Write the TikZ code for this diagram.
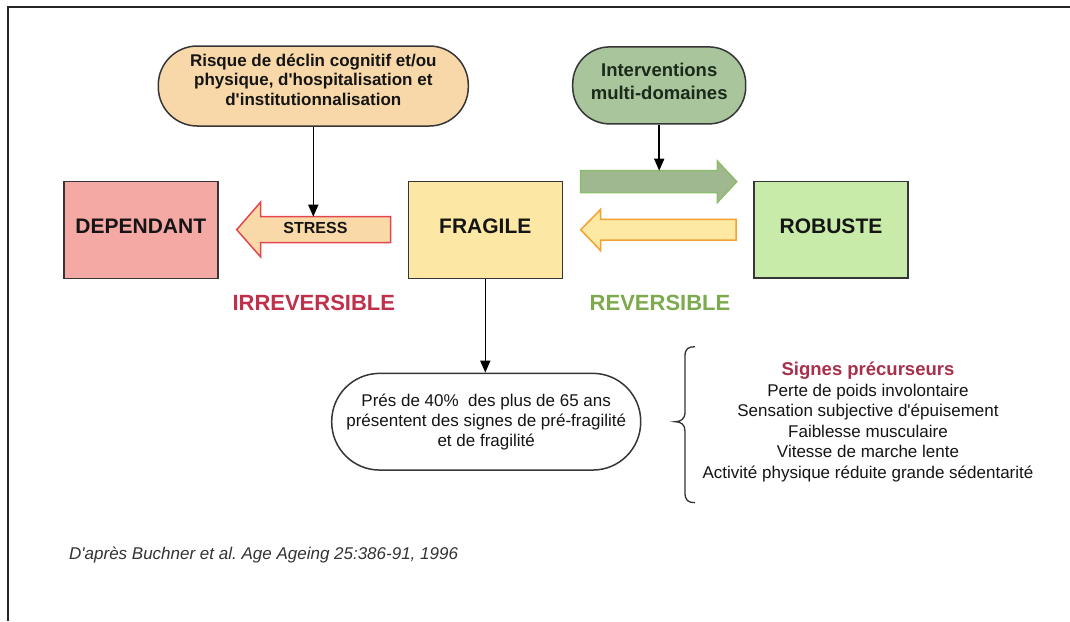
\documentclass[tikz,border=0pt]{standalone}
\usepackage{fontspec}
\setmainfont{Liberation Sans}
\usetikzlibrary{arrows.meta}
\definecolor{boxline}{HTML}{363636}
\definecolor{txt}{HTML}{151515}
\definecolor{risqueFill}{HTML}{F8D8A8}
\definecolor{intervFill}{HTML}{A9C59B}
\definecolor{intervTxt}{HTML}{1B2A1B}
\definecolor{depFill}{HTML}{F5A9A5}
\definecolor{fragFill}{HTML}{FCE8A4}
\definecolor{robFill}{HTML}{C9EBA9}
\definecolor{stressFill}{HTML}{F9D9A7}
\definecolor{stressLine}{HTML}{E2474F}
\definecolor{greenArrFill}{HTML}{A0B88F}
\definecolor{greenArrLine}{HTML}{8DBB6E}
\definecolor{yelArrFill}{HTML}{FDE8A4}
\definecolor{yelArrLine}{HTML}{F3A12F}
\definecolor{irrevCol}{HTML}{C1304B}
\definecolor{revCol}{HTML}{7DAA4E}
\definecolor{signesCol}{HTML}{A8304B}
\definecolor{citeCol}{HTML}{333333}
\newcommand{\apos}{\textquotesingle}
\frenchspacing
\begin{document}
\begin{tikzpicture}[x=1pt,y=-1pt,
  stateBox/.style={draw=boxline, line width=1.5pt, minimum width=154pt, minimum height=96.6pt,
    inner sep=0pt, font=\fontsize{21}{25}\selectfont\bfseries, text=txt, text height=15pt, text depth=8pt},
  pill/.style={draw=boxline, line width=1.5pt, inner sep=0pt},
  conn/.style={draw=black, line width=1.6pt, -{Triangle[length=12pt,width=10pt]}},
  blockArrow/.style={line width=1.5pt, line join=miter},
  bigLabel/.style={font=\fontsize{22}{26}\selectfont\bfseries},
]
\useasboundingbox (0,0) rectangle (1070,621);
\fill[white] (0,0) rectangle (1070,621);
% frame
\draw[line width=2pt, draw=black!85] (1070,6.5) -- (7.5,6.5) -- (7.5,621);

% top pills
\node[pill, fill=risqueFill, minimum width=310pt, minimum height=80pt, rounded corners=39pt] (risque) at (313.3,86) {};
\node[align=center, text=txt, font=\fontsize{17}{19.3}\selectfont\bfseries] (risqueTxt) at (313.3,79.7)
  {Risque de déclin cognitif et/ou\\physique, d\apos hospitalisation et\\d\apos institutionnalisation};
\node[pill, fill=intervFill, minimum width=173pt, minimum height=77pt, rounded corners=37pt] (interv) at (659.2,85.4) {};
\node[align=center, text=intervTxt, font=\fontsize{18.5}{23.5}\selectfont\bfseries] (intervTxt) at (659.2,81.5)
  {Interventions\\multi-domaines};

% state boxes
\node[stateBox, fill=depFill] (dep) at (140.8,230) {DEPENDANT};
\node[stateBox, fill=fragFill] (frag) at (485.3,230) {FRAGILE};
\node[stateBox, fill=robFill] (rob) at (831,229.7) {ROBUSTE};

% block arrows
\draw[blockArrow, fill=stressFill, draw=stressLine]
  (390.7,216.7) -- (260.7,216.7) -- (260.7,202) -- (236.7,229.7) -- (260.7,257) -- (260.7,242.7) -- (390.7,242.7) -- cycle;
\coordinate (stressTop) at (313.3,216.7);
\node[font=\fontsize{16}{19}\selectfont\bfseries, text=txt] (stress) at (315.5,228) {STRESS};

\draw[blockArrow, fill=greenArrFill, draw=greenArrLine]
  (580.7,170.7) -- (717.3,170.7) -- (717.3,161) -- (736.7,181.7) -- (717.3,202.5) -- (717.3,192.7) -- (580.7,192.7) -- cycle;
\coordinate (greenTop) at (659.2,170.7);

\draw[blockArrow, fill=yelArrFill, draw=yelArrLine]
  (736,219.3) -- (600.7,219.3) -- (600.7,209.3) -- (580.7,229.7) -- (600.7,250.7) -- (600.7,240) -- (736,240) -- cycle;

% labels
\node[bigLabel, text=irrevCol] (irrev) at (313.8,302.7) {IRREVERSIBLE};
\node[bigLabel, text=revCol] (rev) at (660,302.7) {REVERSIBLE};

% bottom pill
\node[pill, fill=white, minimum width=309pt, minimum height=96.7pt, rounded corners=48pt,
  align=center, text=txt, font=\fontsize{17}{20}\selectfont] (prev) at (486.2,421.7)
  {Prés de 40\%\ \ des plus de 65 ans\\présentent des signes de pré-fragilité\\et de fragilité};

% connectors
\draw[conn] (risque.south) -- (stressTop);
\draw[conn] (interv.south) -- (greenTop);
\draw[conn] (frag.south) -- (frag.south |- prev.north);

% brace
\draw[line width=1.3pt, draw=black!80]
  (695,346.7) .. controls (688,346.7) and (685,349) .. (685,356) -- (685,412)
  .. controls (685,419) and (681,421.7) .. (675,421.7)
  .. controls (681,421.7) and (685,424.5) .. (685,431) -- (685,493)
  .. controls (685,500) and (688,502.7) .. (695,502.7);

% signes
\node[align=center, text=txt, font=\fontsize{17}{20.5}\selectfont] (signes) at (868,421.8)
  {{\color{signesCol}\bfseries\fontsize{18.5}{20.5}\selectfont Signes précurseurs}\\
   Perte de poids involontaire\\
   Sensation subjective d\apos épuisement\\
   Faiblesse musculaire\\
   Vitesse de marche lente\\
   Activité physique réduite grande sédentarité};

% citation
\node[anchor=base west, inner sep=0pt, text=citeCol, font=\fontsize{17}{20}\selectfont\itshape] (cite) at (69,559.5)
  {D\apos après Buchner et al. Age Ageing 25:386-91, 1996};
\end{tikzpicture}
\end{document}
